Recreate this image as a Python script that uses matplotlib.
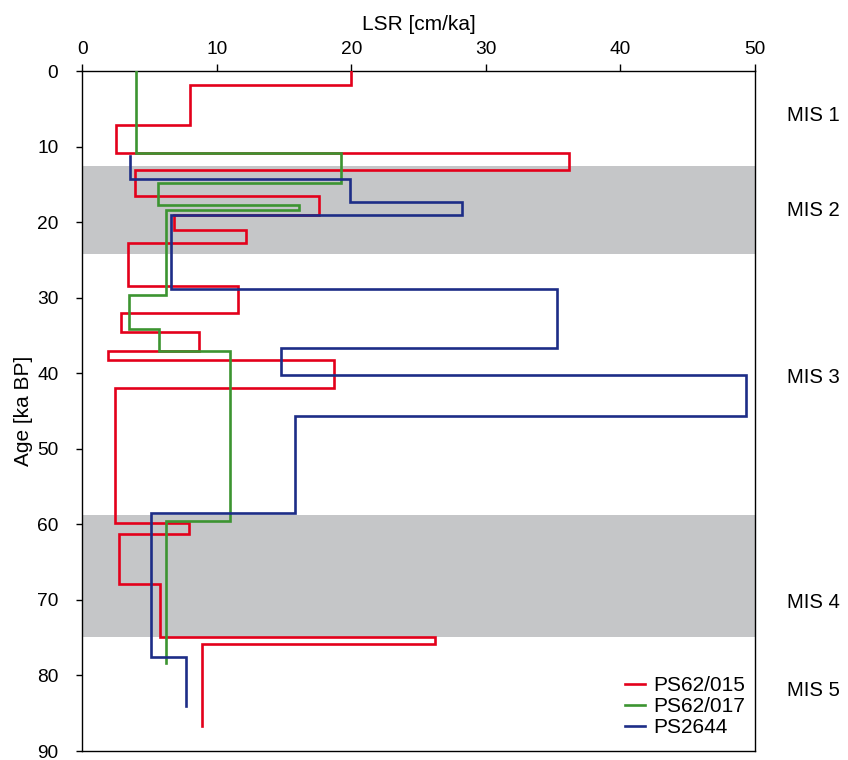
import matplotlib
matplotlib.use("Agg")
import matplotlib.pyplot as plt
import numpy as np

plt.rcParams['font.family'] = ['Liberation Sans', 'DejaVu Sans']

# PS62/015 (red): age boundaries (ka) and LSR per interval (cm/ka)
red_age = [0, 1.85, 7.2, 10.9, 13.1, 16.5, 19.1, 21.0, 22.7, 28.4, 32.0, 34.6,
           37.0, 38.3, 42.0, 59.8, 61.3, 67.9, 74.95, 75.8, 86.7]
red_lsr = [20.0, 8.0, 2.5, 36.15, 3.9, 17.6, 6.8, 12.2, 3.4, 11.6, 2.85, 8.7,
           1.9, 18.7, 2.4, 7.9, 2.75, 5.8, 26.2, 8.9]

# PS62/017 (green)
green_age = [0, 10.9, 14.85, 17.75, 18.35, 29.6, 34.2, 37.0, 59.5, 78.3]
green_lsr = [4.0, 19.2, 5.6, 16.1, 6.2, 3.45, 5.7, 11.0, 6.2]

# PS2644 (blue)
blue_age = [11.3, 14.3, 17.3, 19.05, 28.9, 36.6, 40.25, 45.7, 58.5, 77.6, 84.0]
blue_lsr = [3.55, 19.9, 28.2, 6.6, 35.3, 14.8, 49.3, 15.8, 5.1, 7.7]

# Glacial MIS bands (ka)
band_start = [12.6, 58.7]
band_end = [24.2, 74.9]

mis_labels = ["MIS 1", "MIS 2", "MIS 3", "MIS 4", "MIS 5"]
mis_age = [5.9, 18.5, 40.6, 70.3, 82.0]

x_ticks = [0, 10, 20, 30, 40, 50]
y_ticks = [0, 10, 20, 30, 40, 50, 60, 70, 80, 90]

series = [
    ("PS62/015", red_age, red_lsr, "#e3001b"),
    ("PS62/017", green_age, green_lsr, "#3c9431"),
    ("PS2644", blue_age, blue_lsr, "#1d2d87"),
]


def step_path(ages, vals):
    xs, ys = [], []
    for i, v in enumerate(vals):
        xs += [v, v]
        ys += [ages[i], ages[i + 1]]
    return xs, ys


fig = plt.figure(figsize=(8.48, 7.6), dpi=100)
ax = fig.add_axes([82.3 / 848, 1 - 751 / 760, (755 - 82.3) / 848, (751 - 71) / 760])

for s, e in zip(band_start, band_end):
    ax.axhspan(s, e, color="#c5c6c8", lw=0, zorder=0)

for name, ages, vals, col in series:
    xs, ys = step_path(ages, vals)
    ax.plot(xs, ys, color=col, lw=1.9, label=name, zorder=3,
            solid_joinstyle="miter")

ax.set_xlim(0, 50)
ax.set_ylim(90, 0)
ax.set_xticks(x_ticks)
ax.set_yticks(y_ticks)
ax.xaxis.tick_top()
ax.xaxis.set_label_position("top")
ax.tick_params(axis="both", direction="out", width=1, labelsize=13.8)
ax.tick_params(axis="x", top=True, bottom=False, length=5, pad=4.5)
ax.tick_params(axis="y", length=4.3, pad=13)
ax.set_xlabel("LSR [cm/ka]", fontsize=15)
ax.xaxis.set_label_coords(0.5, 1.061)
ax.set_ylabel("Age [ka BP]", fontsize=15)
ax.yaxis.set_label_coords(-0.073, 0.5)
for sp in ax.spines.values():
    sp.set_linewidth(1)

for lab, a in zip(mis_labels, mis_age):
    ax.text(1.0476, a, lab, transform=ax.get_yaxis_transform(), fontsize=14.6,
            va="center", ha="left")

leg = ax.legend(loc="upper left", frameon=False, fontsize=15,
                handlelength=0.96, handletextpad=0.4, labelspacing=0.1,
                borderpad=0, borderaxespad=0, bbox_to_anchor=(0.807, 0.110))

fig.savefig("out.png", dpi=100)
